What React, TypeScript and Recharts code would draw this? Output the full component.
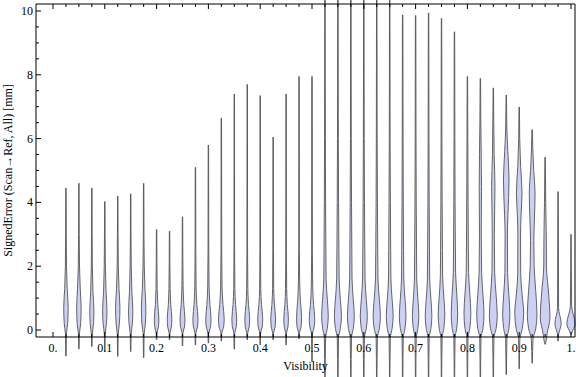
import { Area, ComposedChart, XAxis, YAxis } from "recharts";

// violin centres on the Visibility axis
const visibility = [
  0.025, 0.05, 0.075, 0.1, 0.125, 0.15, 0.175, 0.2, 0.225, 0.25,
  0.275, 0.3, 0.325, 0.35, 0.375, 0.4, 0.425, 0.45, 0.475, 0.5,
  0.525, 0.55, 0.575, 0.6, 0.625, 0.65, 0.675, 0.7, 0.725, 0.75,
  0.775, 0.8, 0.825, 0.85, 0.875, 0.9, 0.925, 0.95, 0.975, 1.0,
];

// lowest / highest signed error per violin [mm]
const errorMin = [
  -0.82, -0.6, -0.52, -0.68, -0.83, -0.68, -0.87, -0.31, -0.31, -0.5,
  -0.47, -0.41, -0.35, -0.6, -0.31, -0.47, -0.31, -0.47, -0.28, -1.0,
  -1.6, -1.6, -1.6, -1.6, -1.6, -1.6, -1.6, -1.6, -1.6, -1.6,
  -1.6, -1.6, -1.6, -1.6, -1.4, -1.22, -1.04, -0.45, -0.35, -0.15,
];
const errorMax = [
  4.45, 4.6, 4.45, 4.03, 4.2, 4.27, 4.6, 3.15, 3.1, 3.55,
  5.1, 5.8, 6.65, 7.4, 7.7, 7.35, 6.05, 7.4, 7.95, 7.95,
  11, 11, 11, 11, 11, 11, 9.88, 9.86, 9.94, 9.77,
  9.35, 7.95, 7.89, 7.59, 7.37, 6.99, 6.28, 5.42, 4.34, 3.0,
];

// density half-width (x1000, visibility units) at error levels [mm]
const violinShape: number[][][] = [
  [[-0.15, 0.8], [0.2, 3.3], [0.7, 4.3], [1.3, 2.4], [2.0, 1.1], [3.0, 0.6]],
  [[-0.15, 0.8], [0.2, 3.4], [0.7, 4.3], [1.3, 2.6], [2.0, 1.2], [3.0, 0.6]],
  [[-0.15, 0.8], [0.2, 3.2], [0.6, 4.0], [1.2, 2.2], [2.0, 1.0], [3.0, 0.6]],
  [[-0.15, 0.8], [0.2, 3.2], [0.6, 4.2], [1.2, 2.4], [2.0, 1.1], [3.0, 0.6]],
  [[-0.15, 0.8], [0.2, 3.2], [0.7, 4.2], [1.3, 2.4], [2.0, 1.1], [3.0, 0.6]],
  [[-0.15, 0.8], [0.2, 3.2], [0.6, 4.1], [1.2, 2.3], [2.0, 1.1], [3.0, 0.6]],
  [[-0.15, 0.8], [0.2, 3.4], [0.7, 4.3], [1.3, 2.5], [2.0, 1.2], [3.0, 0.6]],
  [[-0.1, 0.8], [0.1, 3.6], [0.35, 4.4], [0.8, 2.3], [1.3, 1.1], [2.2, 0.6]],
  [[-0.1, 0.8], [0.1, 3.6], [0.35, 4.4], [0.8, 2.3], [1.3, 1.1], [2.2, 0.6]],
  [[-0.1, 0.8], [0.1, 3.8], [0.35, 4.7], [0.8, 2.5], [1.4, 1.1], [2.4, 0.6]],
  [[-0.1, 0.8], [0.1, 4.0], [0.35, 4.9], [0.8, 2.7], [1.4, 1.2], [2.5, 0.7]],
  [[-0.1, 0.8], [0.1, 4.2], [0.35, 5.1], [0.8, 2.9], [1.4, 1.3], [2.5, 0.7]],
  [[-0.1, 0.8], [0.1, 4.4], [0.35, 5.5], [0.8, 3.1], [1.4, 1.3], [2.5, 0.7]],
  [[-0.1, 0.8], [0.1, 3.8], [0.35, 4.6], [0.8, 2.4], [1.3, 1.1], [2.5, 0.6]],
  [[-0.1, 0.8], [0.1, 3.8], [0.35, 4.6], [0.8, 2.4], [1.3, 1.1], [2.5, 0.6]],
  [[-0.1, 0.8], [0.1, 3.9], [0.35, 4.8], [0.8, 2.5], [1.3, 1.1], [2.5, 0.6]],
  [[-0.1, 0.8], [0.1, 3.8], [0.35, 4.6], [0.8, 2.4], [1.3, 1.1], [2.5, 0.6]],
  [[-0.1, 0.8], [0.1, 3.6], [0.35, 4.4], [0.8, 2.3], [1.3, 1.1], [2.5, 0.6]],
  [[-0.1, 0.8], [0.1, 3.9], [0.4, 4.8], [0.9, 2.7], [1.5, 1.2], [2.5, 0.6]],
  [[-0.15, 0.8], [0.1, 4.2], [0.35, 5.3], [0.8, 3.0], [1.4, 1.3], [2.5, 0.7]],
  [[-0.25, 1.2], [0.05, 4.5], [0.45, 6.4], [0.95, 4.6], [1.6, 2.2], [2.5, 1.8], [4, 1.2], [6, 0.8], [8, 0.6]],
  [[-0.25, 1.2], [0.05, 4.8], [0.45, 6.8], [0.95, 4.8], [1.6, 2.4], [2.5, 1.9], [4, 1.3], [6, 0.8], [8, 0.6]],
  [[-0.25, 1.2], [0.05, 4.7], [0.45, 6.6], [0.95, 4.7], [1.6, 2.3], [2.5, 1.9], [4, 1.3], [6, 0.8], [8, 0.6]],
  [[-0.25, 1.2], [0.05, 4.8], [0.45, 6.8], [0.95, 4.8], [1.6, 2.4], [2.5, 1.9], [4, 1.3], [6, 0.8], [8, 0.6]],
  [[-0.25, 1.2], [0.05, 5.0], [0.45, 7.0], [0.95, 5.0], [1.6, 2.4], [2.5, 1.9], [4, 1.3], [6, 0.8], [8, 0.6]],
  [[-0.25, 1.2], [0.05, 4.7], [0.45, 6.6], [0.95, 4.7], [1.6, 2.3], [2.5, 1.9], [4, 1.3], [6, 0.8], [8, 0.6]],
  [[-0.25, 1.2], [0.05, 4.5], [0.45, 6.4], [0.95, 4.6], [1.6, 2.2], [2.5, 1.8], [4, 1.2], [6, 0.8], [8, 0.6]],
  [[-0.25, 1.2], [0.05, 4.4], [0.45, 6.2], [0.95, 4.5], [1.6, 2.2], [2.5, 1.8], [4, 1.2], [6, 0.8], [8, 0.6]],
  [[-0.25, 1.2], [0.05, 4.5], [0.45, 6.4], [0.95, 4.6], [1.6, 2.2], [2.5, 1.8], [4, 1.2], [6, 0.8], [8, 0.6]],
  [[-0.25, 1.2], [0.05, 4.5], [0.5, 6.4], [1.0, 4.6], [1.7, 2.2], [2.5, 1.8], [4, 1.2], [6, 0.8], [8, 0.6]],
  [[-0.25, 1.2], [0.05, 4.4], [0.5, 6.2], [1.1, 4.6], [1.8, 2.2], [2.6, 1.8], [4, 1.2], [6, 0.8], [8, 0.6]],
  [[-0.25, 1.2], [0.05, 4.7], [0.55, 6.6], [1.1, 4.8], [1.8, 2.3], [2.6, 1.8], [4, 1.3], [6, 0.8]],
  [[-0.25, 1.2], [0.05, 5.0], [0.5, 7.0], [1.1, 5.0], [1.8, 2.4], [3, 1.7], [4.5, 2.2], [6.5, 0.9]],
  [[-0.25, 1.2], [0.05, 5.4], [0.45, 7.6], [1.1, 5.4], [1.8, 2.6], [3, 2.0], [4.5, 3.2], [5.5, 1.6], [6.5, 0.9]],
  [[-0.3, 1.2], [0.05, 5.0], [0.5, 7.0], [1.1, 5.0], [1.8, 2.6], [3, 2.2], [3.6, 3.2], [4.7, 5.4], [5.6, 3.0], [6.3, 1.2]],
  [[-0.3, 1.2], [0.05, 6.0], [0.55, 8.6], [1.1, 5.6], [1.8, 2.8], [3.0, 2.6], [3.6, 3.6], [4.3, 5.4], [5.1, 2.8], [6.0, 1.0]],
  [[-0.3, 1.6], [0.05, 7.0], [0.5, 9.3], [1.2, 7.0], [2.0, 3.8], [2.8, 3.2], [3.6, 4.6], [4.3, 5.6], [5.0, 3.0], [5.7, 1.2]],
  [[-0.4, 1.2], [-0.1, 4.0], [0.4, 9.4], [1.1, 7.0], [2.0, 2.6], [3.0, 2.2], [4.0, 1.2]],
  [[-0.15, 1.0], [0.2, 6.0], [0.7, 1.0]],
  [[-0.1, 1.2], [0.2, 8.0], [0.75, 1.2]],
];

const xTicks = [0, ...visibility];
const yTicks = [
  0, 0.5, 1, 1.5, 2, 2.5, 3, 3.5, 4, 4.5, 5, 5.5, 6, 6.5, 7, 7.5, 8, 8.5, 9, 9.5, 10,
];

const X_DOMAIN = [-0.0328, 1.0077];
const Y_DOMAIN = [-0.219, 10.219];
const TAIL = 0.4;

const violins = visibility.map((v, i) => {
  const knots = violinShape[i].filter(([y]) => y > errorMin[i] && y < errorMax[i]);
  const pts = [[errorMin[i], TAIL], ...knots, [errorMax[i], TAIL]];
  return pts.map(([y, w]) => ({ y, r: [v - w / 1000, v + w / 1000] }));
});

const isMajorX = (v: number) => Math.abs(v * 10 - Math.round(v * 10)) < 1e-6;
const isMajorY = (v: number) => v % 2 === 0;
const fmtX = (v: number) => (v === 0 ? "0." : v === 1 ? "1." : v.toFixed(1));

// frame tick: short inward mark, label only on major ticks of the labelled sides
function FrameTick(props: any) {
  const { x, y, payload, side } = props;
  const v = payload.value;
  const major = side === "bottom" || side === "top" ? isMajorX(v) : isMajorY(v);
  const len = major ? 5 : 3;
  let line;
  if (side === "bottom") line = <line x1={x} y1={y} x2={x} y2={y - len} />;
  else if (side === "top") line = <line x1={x} y1={y} x2={x} y2={y + len} />;
  else if (side === "left") line = <line x1={x} y1={y} x2={x + len} y2={y} />;
  else line = <line x1={x} y1={y} x2={x - len} y2={y} />;
  return (
    <g>
      <g stroke="#000" strokeWidth={1}>{line}</g>
      {major && side === "bottom" && (
        <text x={x} y={y + 14.5} textAnchor="middle" fontSize={12} fill="#000">
          {fmtX(v)}
        </text>
      )}
      {major && side === "left" && (
        <text x={x - 3} y={y + 4} textAnchor="end" fontSize={12} fill="#000">
          {v}
        </text>
      )}
    </g>
  );
}

export default function App() {
  return (
    <div
      style={{
        position: "absolute",
        left: 0,
        top: 0,
        width: 576,
        height: 377,
        background: "#fff",
        fontFamily: "Liberation Serif, Times New Roman, serif",
      }}
    >
      <style>{`.recharts-area, .recharts-area g { clip-path: none !important; }`}</style>
      <ComposedChart
        width={576}
        height={377}
        layout="vertical"
        margin={{ top: 3, right: 0, bottom: 0, left: 0 }}
      >
        <XAxis
          xAxisId="x"
          type="number"
          domain={X_DOMAIN}
          allowDataOverflow
          ticks={xTicks}
          interval={0}
          height={40}
          tickSize={0}
          tickMargin={0}
          tickLine={false}
          axisLine={{ stroke: "#000" }}
          tick={(p: any) => <FrameTick {...p} side="bottom" />}
          label={{ value: "Visibility", position: "insideBottom", offset: 7, fontSize: 12, fill: "#000" }}
        />
        <XAxis
          xAxisId="xTop"
          orientation="top"
          type="number"
          domain={X_DOMAIN}
          allowDataOverflow
          ticks={xTicks}
          interval={0}
          height={1}
          tickSize={0}
          tickMargin={0}
          tickLine={false}
          axisLine={{ stroke: "#000" }}
          tick={(p: any) => <FrameTick {...p} side="top" />}
        />
        <YAxis
          yAxisId="y"
          type="number"
          dataKey="y"
          reversed
          domain={Y_DOMAIN}
          allowDataOverflow
          ticks={yTicks}
          interval={0}
          width={36}
          tickSize={0}
          tickMargin={0}
          tickLine={false}
          axisLine={{ stroke: "#000" }}
          tick={(p: any) => <FrameTick {...p} side="left" />}
          label={{
            content: (props: any) => {
              const vb = props.viewBox;
              const cx = vb.x + vb.width - 24;
              const cy = vb.y + vb.height / 2;
              return (
                <text
                  x={cx}
                  y={cy}
                  transform={`rotate(-90 ${cx} ${cy})`}
                  textAnchor="middle"
                  fontSize={12}
                  fill="#000"
                >
                  SignedError (Scan→Ref, All) [mm]
                </text>
              );
            },
          }}
        />
        <YAxis
          yAxisId="yRight"
          orientation="right"
          type="number"
          reversed
          domain={Y_DOMAIN}
          allowDataOverflow
          ticks={yTicks}
          interval={0}
          width={1}
          tickSize={0}
          tickMargin={0}
          tickLine={false}
          axisLine={{ stroke: "#000" }}
          tick={(p: any) => <FrameTick {...p} side="right" />}
        />
        {violins.map((d, i) => (
          <Area
            key={i}
            xAxisId="x"
            yAxisId="y"
            data={d}
            dataKey="r"
            type="monotone"
            fill="#cbd0f4"
            fillOpacity={1}
            stroke="#555"
            strokeWidth={0.9}
            dot={false}
            activeDot={false}
            isAnimationActive={false}
          />
        ))}
      </ComposedChart>
    </div>
  );
}
